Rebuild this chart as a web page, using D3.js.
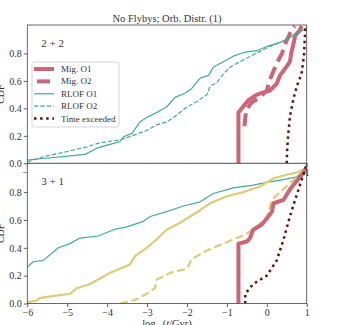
<!DOCTYPE html>
<html>
<head>
<meta charset="utf-8">
<script src="https://cdn.jsdelivr.net/npm/d3@7"></script>
<style>
  body { margin: 0; background: #fff; }
  text { font-family: "Liberation Serif", "DejaVu Serif", serif; fill: #333; }
</style>
</head>
<body>
<div id="d3"></div>
<script>
// series, [log10(t/Gyr), CDF]
// top panel: 2 + 2
const top_mig_o1 = [[-0.71,0],[-0.71,0.37],[-0.46,0.46],[-0.25,0.50],[0.08,0.53],[0.25,0.58],[0.33,0.64],[0.46,0.69],[0.58,0.74],[0.61,0.80],[0.67,0.87],[0.71,0.93],[0.83,0.97],[0.87,1.0]];
const top_mig_o2 = [[-0.56,0.27],[-0.54,0.33],[-0.51,0.39],[-0.39,0.44],[-0.18,0.48],[0.0,0.53],[0.08,0.61],[0.25,0.73],[0.38,0.80],[0.46,0.87],[0.58,0.945],[0.67,0.99],[0.7,1.0]];
const top_rlof_o1 = [[-6,0.024],[-4.55,0.065],[-4.26,0.11],[-3.84,0.145],[-3.68,0.157],[-3.59,0.193],[-3.38,0.218],[-3.18,0.30],[-2.97,0.34],[-2.72,0.375],[-2.51,0.41],[-2.30,0.48],[-2.05,0.51],[-1.88,0.545],[-1.67,0.62],[-1.46,0.64],[-1.34,0.70],[-1.09,0.74],[-0.84,0.78],[-0.54,0.81],[-0.25,0.82],[0.0,0.85],[0.33,0.88],[0.67,0.93],[0.96,0.98],[1.0,0.99]];
const top_rlof_o2 = [[-6,0.01],[-5.6,0.048],[-5.01,0.085],[-4.51,0.12],[-4.18,0.15],[-3.68,0.17],[-3.38,0.2],[-3.0,0.24],[-2.76,0.28],[-2.51,0.30],[-2.26,0.35],[-2.0,0.41],[-1.75,0.45],[-1.5,0.50],[-1.42,0.56],[-1.25,0.59],[-1.09,0.65],[-0.92,0.70],[-0.67,0.74],[-0.34,0.79],[0.0,0.84],[0.25,0.87],[0.5,0.90],[0.75,0.945],[1.0,0.98]];
const top_time = [[0.50,0],[0.51,0.1],[0.54,0.22],[0.58,0.34],[0.66,0.46],[0.75,0.56],[0.87,0.65],[0.93,0.78],[0.95,0.90],[0.97,0.99],[0.98,1.0]];

// bottom panel: 3 + 1
const bot_rlof_o1 = [[-6,0.26],[-5.85,0.30],[-5.6,0.31],[-5.22,0.40],[-4.93,0.43],[-4.68,0.47],[-4.22,0.485],[-3.84,0.53],[-3.51,0.55],[-3.09,0.59],[-2.92,0.625],[-2.51,0.66],[-2.09,0.70],[-1.67,0.73],[-1.34,0.79],[-0.84,0.83],[-0.34,0.85],[0.0,0.87],[0.42,0.89],[0.75,0.91],[0.96,0.97],[1.0,1.0]];
const bot_sand_o1 = [[-6,0.01],[-5.77,0.02],[-5.68,0.04],[-5.18,0.06],[-4.93,0.07],[-4.76,0.11],[-4.43,0.14],[-4.18,0.18],[-3.93,0.22],[-3.68,0.25],[-3.43,0.28],[-3.30,0.34],[-3.01,0.40],[-2.76,0.46],[-2.51,0.53],[-2.17,0.58],[-1.92,0.625],[-1.67,0.67],[-1.42,0.72],[-1.0,0.77],[-0.59,0.80],[-0.17,0.84],[0.17,0.90],[0.50,0.925],[0.75,0.94],[0.96,0.97],[1.0,1.0]];
const bot_sand_o2 = [[-3.68,0.0],[-3.26,0.03],[-3.01,0.07],[-2.80,0.11],[-2.76,0.17],[-2.42,0.22],[-2.0,0.25],[-1.88,0.32],[-1.50,0.38],[-1.17,0.42],[-0.84,0.46],[-0.50,0.50],[-0.21,0.565],[0.0,0.62],[0.13,0.745],[0.33,0.80],[0.58,0.865],[0.83,0.925],[1.0,0.98]];
const bot_mig_o1 = [[-0.71,0],[-0.71,0.43],[-0.50,0.445],[-0.42,0.47],[-0.34,0.53],[-0.13,0.565],[0.0,0.61],[0.13,0.66],[0.17,0.72],[0.42,0.745],[0.58,0.82],[0.75,0.88],[0.92,0.94],[1.0,0.98]];
const bot_time = [[-0.54,0],[-0.54,0.07],[-0.34,0.14],[0.0,0.20],[0.25,0.31],[0.42,0.46],[0.58,0.625],[0.71,0.745],[0.83,0.85],[0.96,0.96],[1.0,1.0]];

const x_ticks = [-6, -5, -4, -3, -2, -1, 0, 1];
const y_ticks = [0, 0.2, 0.4, 0.6, 0.8];
const legend_labels = ["Mig. O1", "Mig. O2", "RLOF O1", "RLOF O2", "Time exceeded"];

// colours / line styles
const c_mig = "#cc6677", c_rlof = "#44aa99", c_sand = "#ddcc77", c_time = "#661100";
const st_mig1 = {color: c_mig, width: 4, dash: null};
const st_mig2 = {color: c_mig, width: 4, dash: "13,6"};
const st_rlof1 = {color: c_rlof, width: 1.2, dash: null};
const st_rlof2 = {color: c_rlof, width: 1.2, dash: "4.4,2"};
const st_sand1 = {color: c_sand, width: 2.2, dash: null};
const st_sand2 = {color: c_sand, width: 2.2, dash: "8,3.6"};
const st_time = {color: c_time, width: 2.5, dash: "2.5,3.6"};

// setup canvas
const canvas_width = 343;
const canvas_height = 325;
const svg = d3.select("#d3").append("svg")
  .attr("width", canvas_width)
  .attr("height", canvas_height);

const x_left = 27.3, x_right = 306.7;
const x = d3.scaleLinear().domain([-6, 1]).range([x_left, x_right]);

const panels = [
  {top: 25, bottom: 163.3, label: "2 + 2",
   series: [[top_mig_o1, st_mig1], [top_mig_o2, st_mig2], [top_rlof_o1, st_rlof1], [top_rlof_o2, st_rlof2], [top_time, st_time]]},
  {top: 163.3, bottom: 303.5, label: "3 + 1",
   series: [[bot_rlof_o1, st_rlof1], [bot_sand_o1, st_sand1], [bot_sand_o2, st_sand2], [bot_mig_o1, st_mig1], [bot_time, st_time]]}
];

panels.forEach(function(p, i) {
  const y = d3.scaleLinear().domain([0, 1.007]).range([p.bottom, p.top]);
  const g = svg.append("g");

  // white panel background covers labels of the panel above
  g.append("rect")
    .attr("x", x_left).attr("y", p.top)
    .attr("width", x_right - x_left).attr("height", p.bottom - p.top)
    .attr("fill", "#fff");

  // axes
  const xa = g.append("g")
    .attr("transform", "translate(0," + p.bottom + ")")
    .call(d3.axisBottom(x).tickValues(x_ticks).tickSize(3.5).tickPadding(2)
      .tickFormat(function(d) { return d < 0 ? "\u2212" + (-d) : d; }));
  const ya = g.append("g")
    .attr("transform", "translate(" + x_left + ",0)")
    .call(d3.axisLeft(y).tickValues(y_ticks).tickSize(3.5).tickPadding(2).tickFormat(d3.format(".1f")));
  [xa, ya].forEach(function(a) {
    a.select(".domain").remove();
    a.selectAll("line").attr("stroke", "#333").attr("stroke-width", 0.8);
    a.selectAll("text").attr("font-size", 10).attr("fill", "#333")
      .style("font-family", "'Liberation Serif', serif");
  });

  // clip lines to the panel
  g.append("clipPath").attr("id", "clip" + i)
    .append("rect")
    .attr("x", x_left).attr("y", p.top)
    .attr("width", x_right - x_left).attr("height", p.bottom - p.top);

  const line = d3.line()
    .x(function(d) { return x(d[0]); })
    .y(function(d) { return y(d[1]); });

  g.append("g").attr("clip-path", "url(#clip" + i + ")")
    .selectAll("path")
    .data(p.series)
    .enter().append("path")
      .attr("d", function(d) { return line(d[0]); })
      .attr("fill", "none")
      .attr("stroke", function(d) { return d[1].color; })
      .attr("stroke-width", function(d) { return d[1].width; })
      .attr("stroke-dasharray", function(d) { return d[1].dash; })
      .attr("stroke-linejoin", "round");

  // frame
  g.append("rect")
    .attr("x", x_left).attr("y", p.top)
    .attr("width", x_right - x_left).attr("height", p.bottom - p.top)
    .attr("fill", "none").attr("stroke", "#444").attr("stroke-width", 0.8);

  // panel label
  g.append("text")
    .attr("x", x_left + 14).attr("y", p.top + 22)
    .attr("font-size", 11)
    .text(p.label);

  // y label
  g.append("text")
    .attr("transform", "translate(4," + ((p.top + p.bottom) / 2) + ") rotate(-90)")
    .attr("text-anchor", "middle")
    .attr("font-size", 10)
    .text("CDF");
});

// title
svg.append("text")
  .attr("x", (x_left + x_right) / 2).attr("y", 22)
  .attr("text-anchor", "middle")
  .attr("font-size", 10.5)
  .text("No Flybys; Orb. Distr. (1)");

// x label
const xl = svg.append("text")
  .attr("x", (x_left + x_right) / 2).attr("y", 327)
  .attr("text-anchor", "middle")
  .attr("font-size", 10.5);
xl.append("tspan").text("log");
xl.append("tspan").attr("font-size", 7).attr("dy", 2).text("10");
xl.append("tspan").attr("dy", -2).text("(");
xl.append("tspan").attr("font-style", "italic").text("t");
xl.append("tspan").text("/Gyr)");

// legend in the top panel
const legend_styles = [st_mig1, st_mig2, st_rlof1, st_rlof2, st_time];
const legend = svg.append("g").attr("transform", "translate(32,62)");
legend.append("rect")
  .attr("width", 87).attr("height", 65).attr("rx", 2)
  .attr("fill", "#fff").attr("fill-opacity", 0.8)
  .attr("stroke", "#ccc").attr("stroke-width", 0.8);
const row = legend.selectAll("g.row")
  .data(legend_labels)
  .enter().append("g")
    .attr("class", "row")
    .attr("transform", function(d, i) { return "translate(0," + (7 + i * 12.4) + ")"; });
row.append("line")
  .attr("x1", 2).attr("x2", 22)
  .attr("stroke", function(d, i) { return legend_styles[i].color; })
  .attr("stroke-width", function(d, i) { return legend_styles[i].width; })
  .attr("stroke-dasharray", function(d, i) { return legend_styles[i].dash; })
  .attr("stroke-dashoffset", function(d, i) { return i === 1 ? -3 : 0; });
row.append("text")
  .attr("x", 29).attr("y", 3)
  .attr("font-size", 9)
  .text(function(d) { return d; });
</script>
</body>
</html>
